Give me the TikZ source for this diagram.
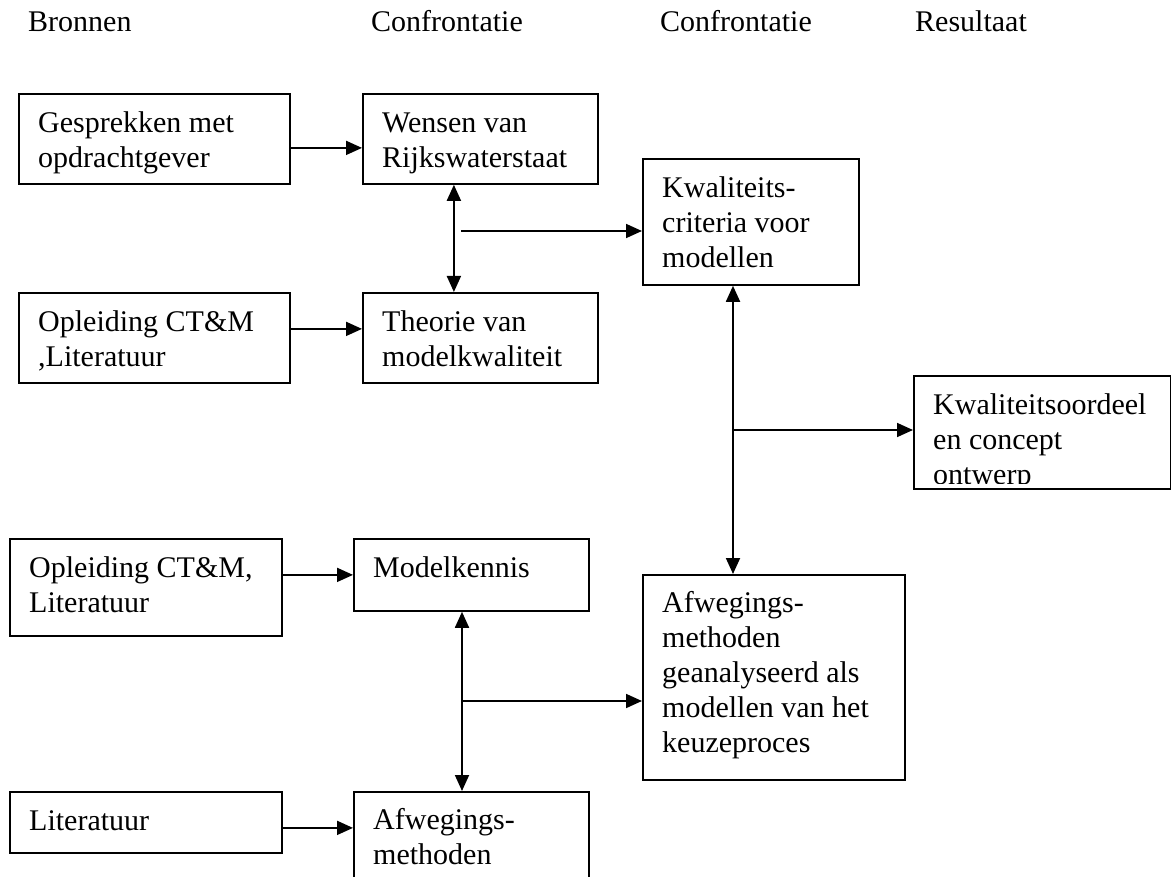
\documentclass[tikz,border=0pt]{standalone}
\usepackage{fontspec}
\setmainfont{Liberation Serif}
\usepackage{tikz}
\usetikzlibrary{calc,arrows.meta}

\tikzset{
    kader/.style={draw=black, line width=1.8pt, inner sep=0pt, anchor=north west},
    tekst/.style={anchor=north west, inner sep=0pt, align=left, font=\fontsize{30}{35}\selectfont},
    kop/.style={anchor=base west, inner sep=0pt, font=\fontsize{30}{35}\selectfont},
    pijl/.style={line width=1.8pt, -{Triangle[length=16pt,width=14pt]}},
    dpijl/.style={line width=1.8pt, {Triangle[length=16pt,width=14pt]}-{Triangle[length=16pt,width=14pt]}}
}

\begin{document}
\begin{tikzpicture}[x=1pt, y=-1pt]
    \clip (0,0) rectangle (1171,877);

    % kolomkoppen
    \node[kop] (bronnen) at (28,32) {Bronnen};
    \node[kop] (confr1) at (371,32) {Confrontatie};
    \node[kop] (confr2) at (660,32) {Confrontatie};
    \node[kop] (result) at (915,32) {Resultaat};

    % bovenste blok
    \node[kader, minimum width=271, minimum height=90] (gesprek) at (18,93) {};
    \node[tekst] (gesprek-t) at ($(gesprek.north west)+(20,14.5)$) {\strut Gesprekken met\\opdrachtgever};

    \node[kader, minimum width=235, minimum height=90] (wensen) at (362,93) {};
    \node[tekst] (wensen-t) at ($(wensen.north west)+(20,14.5)$) {\strut Wensen van\\Rijkswaterstaat};

    \node[kader, minimum width=271, minimum height=90] (opleid1) at (18,292) {};
    \node[tekst] (opleid1-t) at ($(opleid1.north west)+(20,14.5)$) {\strut Opleiding CT\&M\\,Literatuur};

    \node[kader, minimum width=235, minimum height=90] (theorie) at (362,292) {};
    \node[tekst] (theorie-t) at ($(theorie.north west)+(20,14.5)$) {\strut Theorie van\\modelkwaliteit};

    \node[kader, minimum width=216, minimum height=126] (criteria) at (642,158) {};
    \node[tekst] (criteria-t) at ($(criteria.north west)+(20,14.5)$) {\strut Kwaliteits-\\criteria voor\\modellen};

    % resultaat
    \node[kader, minimum width=257, minimum height=113] (oordeel) at (913,375) {};
    \begin{scope}
        \clip (913,375) rectangle (1170,483);
        \node[tekst] (oordeel-t) at ($(oordeel.north west)+(20,14.5)$) {\strut Kwaliteitsoordeel\\en concept\\ontwerp};
    \end{scope}

    % onderste blok
    \node[kader, minimum width=272, minimum height=97] (opleid2) at (9,538) {};
    \node[tekst] (opleid2-t) at ($(opleid2.north west)+(20,14.5)$) {\strut Opleiding CT\&M,\\Literatuur};

    \node[kader, minimum width=235, minimum height=72] (modelkennis) at (353,538) {};
    \node[tekst] (modelkennis-t) at ($(modelkennis.north west)+(20,14.5)$) {\strut Modelkennis};

    \node[kader, minimum width=272, minimum height=61] (literatuur) at (9,791) {};
    \node[tekst] (literatuur-t) at ($(literatuur.north west)+(20,14.5)$) {\strut Literatuur};

    \node[kader, minimum width=235, minimum height=120] (afweg) at (353,791) {};
    \node[tekst] (afweg-t) at ($(afweg.north west)+(20,13.5)$) {\strut Afwegings-\\methoden};

    \node[kader, minimum width=262, minimum height=205] (analyse) at (642,574) {};
    \node[tekst] (analyse-t) at ($(analyse.north west)+(20,13.5)$) {\strut Afwegings-\\methoden\\geanalyseerd als\\modellen van het\\keuzeproces};

    % pijlen
    \draw[pijl] ([yshift=-9]gesprek.east) -- ([yshift=-9]gesprek.east -| wensen.west);
    \draw[pijl] ([yshift=9]opleid1.east) -- ([yshift=9]opleid1.east -| theorie.west);
    \draw[pijl] (opleid2.east |- modelkennis.west) -- (modelkennis.west);
    \draw[pijl] ([yshift=-5.5]literatuur.east) -- ([yshift=-5.5]literatuur.east -| afweg.west);

    \draw[dpijl] ([xshift=-26.5]wensen.south) -- ([xshift=-26.5]wensen.south |- theorie.north);
    \coordinate (j1) at (461,231);
    \draw[pijl] (j1) -- (j1 -| criteria.west);

    \coordinate (j2) at (733,430);
    \draw[dpijl] (j2 |- criteria.south) -- (j2 |- analyse.north);
    \draw[pijl] (j2) -- (j2 -| oordeel.west);

    \coordinate (j3) at (462,701);
    \draw[dpijl] (j3 |- modelkennis.south) -- (j3 |- afweg.north);
    \draw[pijl] (j3) -- (j3 -| analyse.west);
\end{tikzpicture}
\end{document}
